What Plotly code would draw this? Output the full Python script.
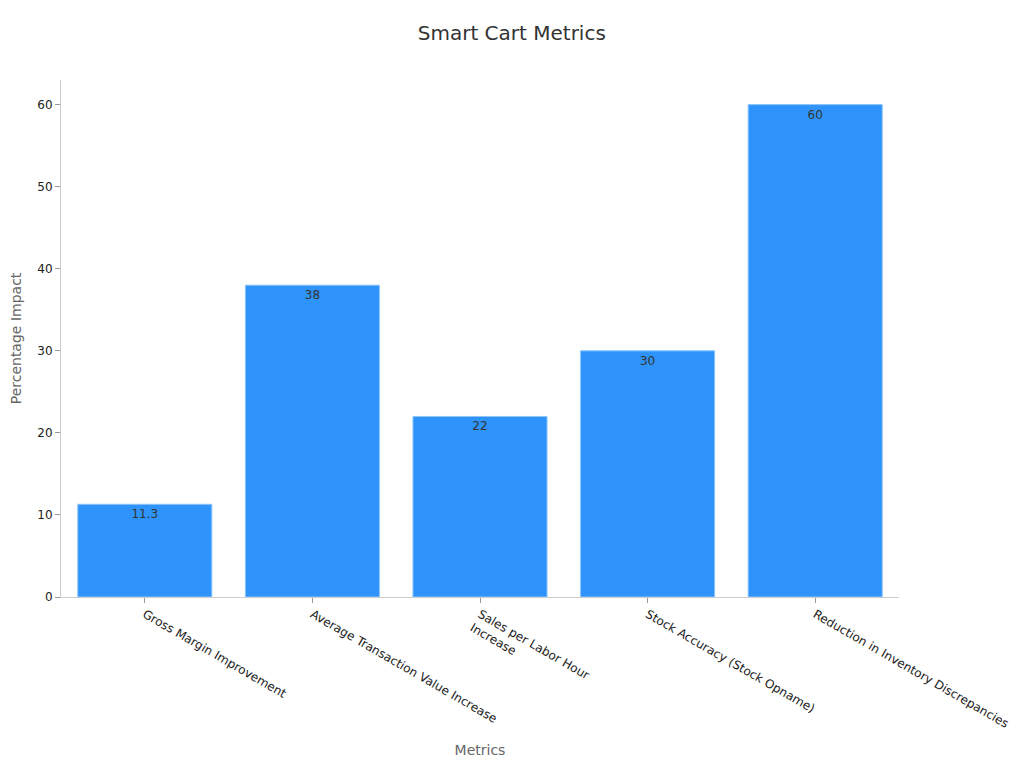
import plotly.graph_objects as go

categories = [
    "Gross Margin Improvement",
    "Average Transaction Value Increase",
    "Sales per Labor Hour<br>Increase",
    "Stock Accuracy (Stock Opname)",
    "Reduction in Inventory Discrepancies",
]
values = [11.3, 38, 22, 30, 60]
labels = ["11.3", "38", "22", "30", "60"]

fig = go.Figure(
    go.Bar(
        x=categories,
        y=values,
        text=labels,
        textposition="inside",
        insidetextanchor="end",
        textfont=dict(color="#333333", size=12, family="DejaVu Sans"),
        marker=dict(color="#2E93FA", line=dict(color="#8EC5FC", width=1)),
        width=0.8,
    )
)

fig.update_layout(
    width=1024,
    height=768,
    paper_bgcolor="white",
    plot_bgcolor="white",
    font=dict(family="DejaVu Sans", color="#333333"),
    title=dict(text="Smart Cart Metrics", x=0.492, xanchor="center", y=0.9674, yanchor="middle",
               font=dict(size=20, color="#333333")),
    margin=dict(l=53, r=133, t=72, b=179),
    showlegend=False,
    xaxis=dict(
        title=dict(text="Metrics", font=dict(size=14, color="#666666"), standoff=15),
        automargin=False,
        tickangle=30,
        ticks="outside",
        ticklen=5,
        tickcolor="#999999",
        showline=True,
        linecolor="#cccccc",
        showgrid=False,
        tickfont=dict(size=12, color="#222222"),
    ),
    yaxis=dict(
        title=dict(text="Percentage Impact", font=dict(size=14, color="#666666"), standoff=18),
        automargin=False,
        range=[0, 63],
        dtick=10,
        ticks="outside",
        ticklen=5,
        tickcolor="#999999",
        showline=True,
        linecolor="#cccccc",
        showgrid=False,
        zeroline=False,
        tickfont=dict(size=12, color="#222222"),
    ),
)

fig.write_html("out.html")
